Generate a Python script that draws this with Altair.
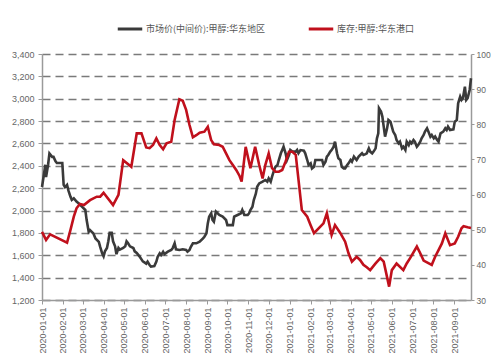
import altair as alt
import pandas as pd

price_name = "市场价(中间价):甲醇:华东地区"
stock_name = "库存:甲醇:华东港口"

price_dates = [
    "2020-01-01","2020-01-06","2020-01-07","2020-01-10","2020-01-12","2020-01-16","2020-01-18","2020-01-21",
    "2020-01-23","2020-01-31","2020-02-02","2020-02-04","2020-02-07","2020-02-09","2020-02-12","2020-02-14",
    "2020-02-17","2020-02-21","2020-02-24","2020-02-29","2020-03-05","2020-03-07","2020-03-10","2020-03-12",
    "2020-03-17","2020-03-20","2020-03-25","2020-03-27","2020-03-30","2020-04-01","2020-04-03","2020-04-06",
    "2020-04-08","2020-04-10","2020-04-13","2020-04-15","2020-04-18","2020-04-20","2020-04-23","2020-04-25",
    "2020-04-30","2020-05-03","2020-05-05","2020-05-07","2020-05-10","2020-05-15","2020-05-17","2020-05-20",
    "2020-05-24","2020-05-29","2020-06-03","2020-06-05","2020-06-08","2020-06-10","2020-06-15","2020-06-18",
    "2020-06-20","2020-06-23","2020-06-25","2020-06-28","2020-06-30","2020-07-05","2020-07-10","2020-07-12",
    "2020-07-15","2020-07-17","2020-07-22","2020-07-27","2020-08-01","2020-08-03","2020-08-06","2020-08-08",
    "2020-08-11","2020-08-16","2020-08-21","2020-08-26","2020-08-28","2020-08-31","2020-09-02","2020-09-04",
    "2020-09-07","2020-09-09","2020-09-11","2020-09-14","2020-09-19","2020-09-24","2020-09-29","2020-10-01",
    "2020-10-09","2020-10-11","2020-10-16","2020-10-21","2020-10-23","2020-10-26","2020-10-31","2020-11-02",
    "2020-11-04","2020-11-07","2020-11-09","2020-11-12","2020-11-14","2020-11-17","2020-11-22","2020-11-26",
    "2020-11-29","2020-12-01","2020-12-04","2020-12-06","2020-12-09","2020-12-11","2020-12-14","2020-12-16",
    "2020-12-19","2020-12-21","2020-12-23","2020-12-26","2020-12-28","2020-12-31","2021-01-02","2021-01-05",
    "2021-01-10","2021-01-12","2021-01-14","2021-01-17","2021-01-22","2021-01-24","2021-01-27","2021-01-29",
    "2021-02-01","2021-02-03","2021-02-06","2021-02-08","2021-02-13","2021-02-18","2021-02-20","2021-02-23",
    "2021-02-25","2021-02-27","2021-03-02","2021-03-04","2021-03-07","2021-03-09","2021-03-12","2021-03-14",
    "2021-03-17","2021-03-19","2021-03-22","2021-03-24","2021-03-27","2021-03-29","2021-04-01","2021-04-03",
    "2021-04-06","2021-04-08","2021-04-10","2021-04-13","2021-04-18","2021-04-20","2021-04-23","2021-04-25",
    "2021-04-28","2021-04-30","2021-05-03","2021-05-05","2021-05-08","2021-05-10","2021-05-12","2021-05-13",
    "2021-05-16","2021-05-18","2021-05-20","2021-05-22","2021-05-25","2021-05-27","2021-05-30","2021-06-01",
    "2021-06-03","2021-06-06","2021-06-08","2021-06-11","2021-06-13","2021-06-16","2021-06-18","2021-06-21",
    "2021-06-23","2021-06-26","2021-06-28","2021-06-30","2021-07-03","2021-07-05","2021-07-08","2021-07-10",
    "2021-07-13","2021-07-15","2021-07-18","2021-07-20","2021-07-23","2021-07-25","2021-07-28","2021-07-30",
    "2021-08-02","2021-08-04","2021-08-07","2021-08-09","2021-08-12","2021-08-16","2021-08-19","2021-08-21",
    "2021-08-23","2021-08-26","2021-08-31","2021-09-02","2021-09-05","2021-09-07","2021-09-10","2021-09-12",
    "2021-09-14","2021-09-17","2021-09-19","2021-09-21","2021-09-24","2021-09-26",
]
price_values = [
    2210,2410,2300,2410,2510,2480,2480,2440,
    2425,2425,2230,2210,2230,2180,2125,2095,
    2110,2080,2065,2035,2005,1915,1810,1825,
    1795,1750,1720,1675,1615,1590,1635,1665,
    1725,1800,1800,1725,1680,1610,1665,1650,
    1665,1680,1725,1710,1680,1665,1635,1620,
    1590,1545,1525,1543,1513,1498,1504,1543,
    1587,1617,1602,1632,1611,1632,1647,1662,
    1707,1653,1647,1653,1647,1632,1647,1676,
    1707,1707,1721,1751,1766,1796,1885,1945,
    1975,1915,1900,1990,1960,1945,1915,1870,
    1870,1945,1960,1975,2005,1960,1960,1975,
    2005,2034,2094,2150,2213,2243,2258,2273,
    2258,2288,2258,2303,2362,2392,2407,2452,
    2512,2541,2571,2512,2452,2497,2541,2527,
    2527,2541,2512,2541,2536,2512,2452,2407,
    2422,2377,2392,2452,2452,2452,2407,2437,
    2482,2497,2527,2541,2571,2616,2512,2467,
    2452,2392,2377,2377,2407,2422,2452,2437,
    2482,2467,2452,2482,2512,2497,2505,2512,
    2556,2527,2512,2527,2556,2646,2691,2915,
    2885,2840,2750,2661,2735,2810,2795,2750,
    2706,2676,2631,2601,2616,2556,2571,2541,
    2616,2586,2616,2601,2631,2616,2571,2586,
    2616,2646,2676,2706,2735,2706,2661,2676,
    2646,2661,2631,2616,2691,2706,2735,2720,
    2750,2720,2726,2795,2810,2959,3019,2989,
    3004,3108,2989,3004,3078,3183,
]

stock_dates = [
    "2020-01-01","2020-01-07","2020-01-13","2020-02-07","2020-02-12","2020-02-17","2020-02-21","2020-02-26",
    "2020-03-03","2020-03-12","2020-03-22","2020-03-27","2020-04-01","2020-04-15","2020-04-23","2020-04-30",
    "2020-05-12","2020-05-20","2020-05-27","2020-06-03","2020-06-08","2020-06-13","2020-06-18","2020-06-23",
    "2020-06-28","2020-07-03","2020-07-10","2020-07-15","2020-07-22","2020-07-27","2020-08-01","2020-08-06",
    "2020-08-11","2020-08-16","2020-08-21","2020-08-28","2020-09-02","2020-09-07","2020-09-11","2020-09-19",
    "2020-09-24","2020-09-29","2020-10-04","2020-10-09","2020-10-14","2020-10-19","2020-10-22","2020-10-28",
    "2020-11-04","2020-11-11","2020-11-17","2020-11-22","2020-11-26","2020-12-01","2020-12-06","2020-12-11",
    "2020-12-16","2020-12-21","2020-12-26","2020-12-31","2021-01-05","2021-01-10","2021-01-19","2021-01-27",
    "2021-02-01","2021-02-06","2021-02-20","2021-02-25","2021-03-04","2021-03-09","2021-03-17","2021-03-24",
    "2021-03-29","2021-04-03","2021-04-10","2021-04-15","2021-04-20","2021-04-25","2021-04-30","2021-05-08",
    "2021-05-15","2021-05-20","2021-05-28","2021-06-01","2021-06-08","2021-06-18","2021-06-23","2021-06-28",
    "2021-07-08","2021-07-13","2021-07-18","2021-07-30","2021-08-04","2021-08-09","2021-08-14","2021-08-19",
    "2021-08-26","2021-09-02","2021-09-07","2021-09-12","2021-09-15","2021-09-21","2021-09-26",
]
stock_values = [
    49.4,47.1,48.7,46.3,49.9,53.7,56.1,57.3,
    57.0,58.4,59.4,59.4,60.5,57.0,59.9,69.8,
    67.9,77.4,77.4,73.4,73.2,74.1,76.0,74.1,
    72.9,74.6,75.0,81.2,87.1,86.7,84.1,79.8,
    76.3,76.9,77.6,77.9,79.3,75.5,74.3,74.1,
    73.6,71.7,69.8,68.4,67.0,65.3,63.7,73.6,
    67.5,73.6,68.4,64.6,68.4,71.7,67.5,66.5,
    66.5,67.0,69.4,72.2,72.2,71.3,55.6,53.7,
    51.3,49.0,51.8,54.7,48.5,51.3,49.0,46.6,
    43.3,40.9,42.3,41.4,40.0,39.3,38.5,40.4,
    41.9,40.9,33.8,38.5,40.4,38.5,40.4,41.9,
    45.2,43.3,41.2,40.0,42.3,44.2,46.1,49.0,
    45.6,46.1,48.0,50.4,51.0,50.7,50.5,
]

left_ticks = [1200, 1400, 1600, 1800, 2000, 2200, 2400, 2600, 2800, 3000, 3200, 3400]
right_ticks = [30, 40, 50, 60, 70, 80, 90, 100]
month_ticks = [
    "2020-01-01","2020-02-01","2020-03-01","2020-04-01","2020-05-01","2020-06-01","2020-07-01",
    "2020-08-01","2020-09-01","2020-10-01","2020-11-01","2020-12-01","2021-01-01","2021-02-01",
    "2021-03-01","2021-04-01","2021-05-01","2021-06-01","2021-07-01","2021-08-01","2021-09-01",
]
x_start, x_end = "2020-01-01", "2021-09-26"


def dt(s):
    y, m, d = (int(p) for p in s.split("-"))
    return alt.DateTime(year=y, month=m, date=d, utc=True)


price_df = pd.DataFrame({"date": price_dates, "value": price_values, "series": price_name})
stock_df = pd.DataFrame({"date": stock_dates, "value": stock_values, "series": stock_name})

axis_font = "Liberation Sans"
label_color = "#666666"
domain_color = "#9a9a9a"

x_enc = alt.X(
    "date:T",
    scale=alt.Scale(type="utc", domain=[dt(x_start), dt(x_end)], nice=False),
    axis=alt.Axis(
        values=[dt(s) for s in month_ticks],
        labelExpr="utcFormat(datum.value, '%Y-%m-%d')",
        labelAngle=270,
        labelFontSize=9,
        labelFont=axis_font,
        labelColor=label_color,
        labelPadding=3,
        tickSize=4,
        tickColor=domain_color,
        domainColor=domain_color,
        domainWidth=1.5,
        grid=False,
        title=None,
        labelOverlap=False,
    ),
    title=None,
)

color_scale = alt.Scale(domain=[price_name, stock_name], range=["#3a3a3a", "#c0101c"])

price_line = alt.Chart(price_df).mark_line(strokeWidth=2.6, interpolate="linear").encode(
    x=x_enc,
    y=alt.Y(
        "value:Q",
        scale=alt.Scale(domain=[1200, 3400], nice=False, zero=False),
        axis=alt.Axis(
            values=left_ticks,
            format=",.0f",
            orient="left",
            labelFontSize=9,
            labelFont=axis_font,
            labelColor=label_color,
            labelPadding=4,
            tickSize=4,
            tickColor=domain_color,
            domainColor=domain_color,
            domainWidth=1.5,
            grid=True,
            gridColor="#7a7a7a",
            gridDash=[8, 5],
            gridWidth=1.3,
            title=None,
        ),
        title=None,
    ),
    color=alt.Color(
        "series:N",
        scale=color_scale,
        legend=alt.Legend(
            orient="none",
            legendX=74,
            legendY=-39,
            direction="horizontal",
            symbolType="stroke",
            symbolSize=600,
            symbolStrokeWidth=3,
            labelFontSize=9,
            labelFont="Noto Sans CJK SC",
            labelColor="#555555",
            labelOffset=2,
            columnPadding=36,
            padding=0,
            title=None,
        ),
    ),
)

stock_line = alt.Chart(stock_df).mark_line(strokeWidth=2.6, interpolate="linear").encode(
    x=x_enc,
    y=alt.Y(
        "value:Q",
        scale=alt.Scale(domain=[30, 100], nice=False, zero=False),
        axis=alt.Axis(
            values=right_ticks,
            orient="right",
            labelFontSize=8.5,
            labelFont=axis_font,
            labelColor=label_color,
            labelPadding=2,
            tickSize=3,
            tickColor=domain_color,
            domainColor=domain_color,
            domainWidth=1.5,
            grid=False,
            title=None,
        ),
        title=None,
    ),
    color=alt.Color("series:N", scale=color_scale),
)

chart = (
    alt.layer(price_line, stock_line)
    .resolve_scale(y="independent")
    .properties(
        width=429,
        height=246,
        padding={"left": 34, "top": 46, "right": 20, "bottom": 58},
        autosize=alt.AutoSizeParams(type="none"),
        background="white",
    )
    .configure_view(stroke=None)
)

chart.save("out.html", embed_options={"renderer": "svg", "actions": False})
